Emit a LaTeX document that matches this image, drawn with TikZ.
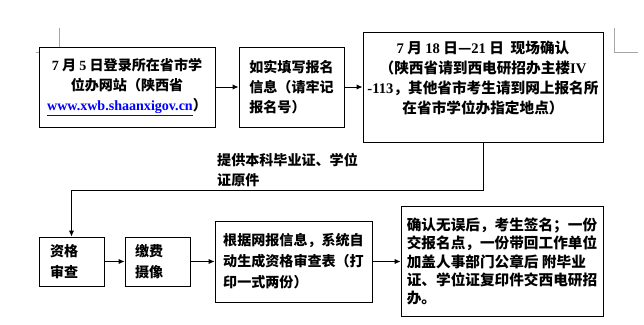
\documentclass[tikz,border=0pt]{standalone}
\usepackage{fontspec}
\setmainfont{Noto Sans CJK SC}
\newfontfamily\latinfont{Liberation Serif}
\usetikzlibrary{arrows.meta,positioning}

\begin{document}
\begin{tikzpicture}[
    box/.style={draw, line width=0.8pt, align=left, font=\bfseries\fontsize{12}{17}\selectfont},
    arr/.style={-{Latex[length=5pt,width=4.5pt]}, line width=0.8pt},
    lbl/.style={font=\bfseries\fontsize{12}{17}\selectfont, align=left, inner sep=0pt},
    crop/.style={draw=black!35, line width=0.6pt}
]
\useasboundingbox (0,0) rectangle (19.32,-9.72);
% page corner marks
\draw[crop] (1.78,-0.84) -- (1.78,-1.41);
\draw[crop] (1.08,-1.56) -- (1.17,-1.56);
\draw[crop] (18.42,-0.84) -- (18.42,-1.56) -- (19.14,-1.56);

% first row
\node[box, align=center, minimum width=5.28cm, minimum height=2.4cm] (L) at (3.81,-2.61)
    {{\latinfont 7} 月 {\latinfont 5} 日登录所在省市学\\位办网站（陕西省\\{\latinfont\color{blue}\underline{www.xwb.shaanxigov.cn}}）};
\node[box, minimum width=3.15cm, minimum height=2.4cm] (F) at (8.745,-2.61)
    {如实填写报名\\信息（请牢记\\报名号）};
\node[box, align=center, minimum width=7.2cm, minimum height=3.3cm, font=\bfseries\fontsize{12.5}{17}\selectfont] (C) at (14.49,-2.61)
    {{\latinfont 7} 月 {\latinfont 18} 日—{\latinfont 21} 日\ \ 现场确认\\（陕西省请到西电研招办主楼{\latinfont IV}\\{\latinfont -113}，其他省市考生请到网上报名所\\在省市学位办指定地点）\\~};

% second row
\node[box, text width=1.29cm, minimum width=1.95cm, minimum height=1.47cm, font=\bfseries\fontsize{12}{18}\selectfont] (Q) at (2.145,-7.845) {资格\\审查};
\node[box, text width=1.35cm, minimum width=1.95cm, minimum height=1.47cm, font=\bfseries\fontsize{12}{18}\selectfont] (P) at (4.725,-7.845) {缴费\\摄像};
\node[box, minimum width=4.71cm, minimum height=2.43cm, font=\bfseries\fontsize{12}{18}\selectfont] (T) at (8.805,-7.845)
    {根据网报信息，系统自\\动生成资格审查表（打\\印一式两份）};
\node[box, minimum width=6.06cm, minimum height=3.3cm, font=\bfseries\fontsize{12.5}{15.7}\selectfont] (S) at (15.06,-7.845)
    {确认无误后，考生签名；一份\\交报名点，一份带回工作单位\\加盖人事部门公章后\ 附毕业\\证、学位证复印件交西电研招\\办。};

\node[lbl, anchor=north west] (N) at (6.51,-4.6) {提供本科毕业证、学位\\证原件};
\coordinate (K) at (14.49,-5.7);

\draw[arr] (L) -- (F);
\draw[arr] (F) -- (C);
\draw[arr] (C) -- (K) -| (Q);
\draw[arr] (Q) -- (P);
\draw[arr] (P) -- (T);
\draw[arr] (T) -- (S);
\end{tikzpicture}
\end{document}
